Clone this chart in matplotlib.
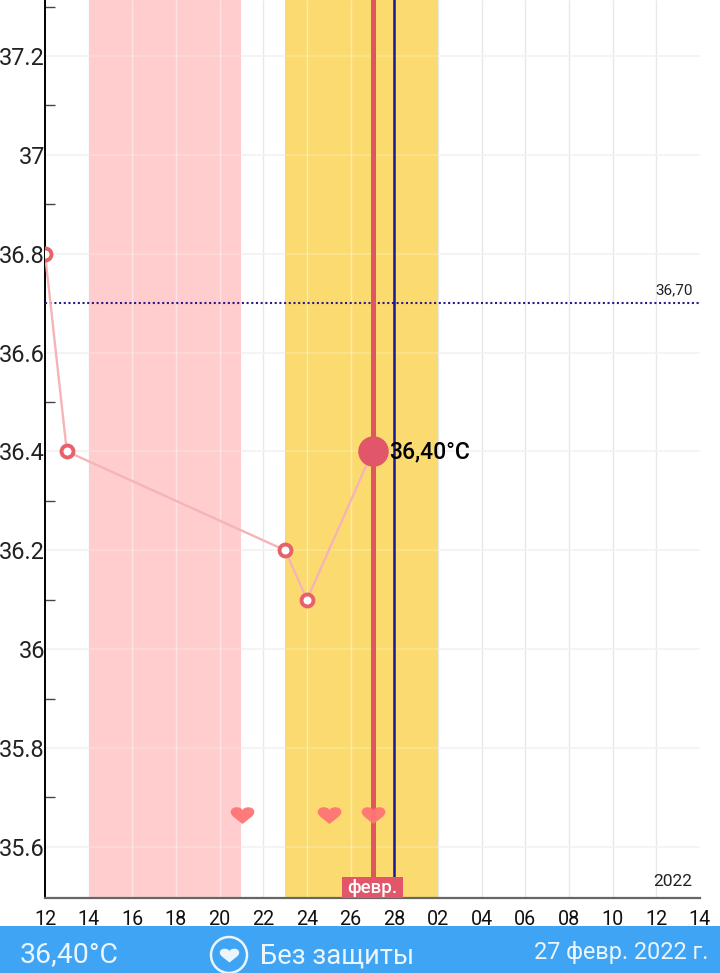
import matplotlib
matplotlib.use("Agg")
import matplotlib.pyplot as plt
from matplotlib.patches import Circle, Rectangle
from matplotlib.path import Path

plt.rcParams["font.family"] = ["Roboto", "DejaVu Sans"]

# ---------------- Data ----------------
tick_days = list(range(0, 31, 2))
tick_labels = ["12", "14", "16", "18", "20", "22", "24", "26", "28",
               "02", "04", "06", "08", "10", "12", "14"]

temp_days = [0, 1, 11, 12, 15]
temps = [36.8, 36.4, 36.2, 36.1, 36.4]

major_temps = [35.6, 35.8, 36.0, 36.2, 36.4, 36.6, 36.8, 37.0, 37.2]
major_labels = ["35.6", "35.8", "36", "36.2", "36.4", "36.6", "36.8", "37", "37.2"]
minor_temps = [35.7, 35.9, 36.1, 36.3, 36.5, 36.9, 37.1, 37.3]

heart_days = [9, 13, 15]
heart_level = 35.665

pink_band = (2, 9)
yellow_band = (11, 18)
today = 15
blue_day = 16
cover_line = 36.7

W, H = 720, 973
BAR = "#3FA4F3"
RED = "#E2566A"
YMIN, YMAX = 35.4965, 37.3133

# heart outline for the markers, flatter than it is wide
heart = Path(
    [(0, -0.72), (-0.5, -0.3), (-1.0, -0.05), (-1.0, 0.3), (-1.0, 0.6), (-0.7, 0.7), (-0.5, 0.7),
     (-0.25, 0.7), (0, 0.58), (0, 0.42), (0, 0.58), (0.25, 0.7), (0.5, 0.7),
     (0.7, 0.7), (1.0, 0.6), (1.0, 0.3), (1.0, -0.05), (0.5, -0.3), (0, -0.72), (0, -0.72)],
    [Path.MOVETO] + [Path.CURVE4] * 18 + [Path.CLOSEPOLY],
)

fig = plt.figure(figsize=(W / 100, H / 100), dpi=100)

# ---------------- Bottom bar ----------------
bar = fig.add_axes([0, 0, 1, 1], zorder=0)
bar.set_xlim(0, W)
bar.set_ylim(H, 0)
bar.axis("off")
bar.add_patch(Rectangle((0, 926), W, 47, color=BAR, lw=0))
bar.add_patch(Circle((229, 955), 18, fc="none", ec="#EAF5FE", lw=1.8))
bar.plot([229], [955], marker=heart, ms=14, color="#EAF5FE", mew=0)
bar.text(20, 956, "36,40°C", fontsize=20.5, color="#EAF5FE", va="center", ha="left")
bar.text(260, 956, "Без защиты", fontsize=19.7, color="#EAF5FE", va="center", ha="left")
bar.text(708, 953, "27 февр. 2022 г.", fontsize=16.8, color="#EAF5FE", va="center", ha="right")

# ---------------- Chart ----------------
ax = fig.add_axes([45 / W, (H - 898) / H, 655 / W, 898 / H], zorder=1)
ax.patch.set_alpha(0)
ax.set_xlim(0, 30)
ax.set_ylim(YMIN, YMAX)

# grid under the bands
ax.vlines(tick_days[1:-1], YMIN, YMAX, color="#E8E8E8", lw=1, zorder=0)
ax.hlines(major_temps, 0, 30, color="#F3F3F3", lw=1.3, zorder=0)

ax.axvspan(*pink_band, color="#FFCDCE", lw=0, zorder=1)
ax.axvspan(*yellow_band, color="#FBDB70", lw=0, zorder=1)

# grid shows lighter on top of the bands
for lo, hi in [pink_band, yellow_band]:
    inside = [d for d in tick_days if lo < d < hi]
    ax.vlines(inside, YMIN, YMAX, color="white", alpha=0.45, lw=1, zorder=2)
    ax.hlines(major_temps, lo, hi, color="white", alpha=0.2, lw=1.3, zorder=2)

ax.hlines(cover_line, 0, 30, color="#2A1A8C", lw=1.5, linestyles=(0, (1, 1.25)), zorder=3)
ax.text(29.65, cover_line + 0.0125, "36,70", fontsize=11, ha="right", va="bottom",
        color="#222222", zorder=6)

ax.axvline(today, color="#E0565F", lw=3.6, zorder=3)
ax.axvline(blue_day, color="#1C1499", lw=1.8, zorder=3)

ax.plot(temp_days, temps, color="#F6B4B6", lw=1.7, zorder=4)
ax.plot(temp_days[:-1], temps[:-1], ls="none", marker="o", ms=8.6, mfc="white",
        mec="#E8606A", mew=2.8, zorder=5)
ax.plot(temp_days[-1], temps[-1], marker="o", ms=22, color=RED, mew=0, zorder=5)
ax.text(temp_days[-1] + 0.75, temps[-1], "36,40°C", fontsize=16.5, color="black",
        va="center", ha="left", zorder=6, fontweight="medium")

ax.plot(heart_days, [heart_level] * len(heart_days), ls="none", marker=heart, ms=17,
        color="#FF7474", alpha=0.95, mew=0, zorder=4)

# month tag and year
ax.add_patch(Rectangle((today - 1.4, YMIN), 2.8, 0.0425, fc=RED, ec="none", zorder=7))
ax.text(today, YMIN + 0.0195, "февр.", fontsize=13.5, color="white", ha="center", va="center",
        fontweight="medium", zorder=8)
ax.text(29.65, YMIN + 0.033, "2022", fontsize=12.5, ha="right", va="center", color="#222222", zorder=6)

# ---------------- Axes ----------------
ax.set_xticks(tick_days)
ax.set_xticklabels(tick_labels, fontsize=14.2, color="#111111")
ax.tick_params(axis="x", length=0, pad=8.5)

ax.set_yticks(major_temps)
ax.set_yticklabels(major_labels, fontsize=16.9, color="#222222")
ax.tick_params(axis="y", which="major", length=0, pad=0)
ax.set_yticks(minor_temps, minor=True)
ax.tick_params(axis="y", which="minor", direction="in", length=7, width=1, color="#444444")

for side in ["top", "right"]:
    ax.spines[side].set_visible(False)
ax.spines["left"].set_linewidth(1.4)
ax.spines["left"].set_color("black")
ax.spines["bottom"].set_linewidth(1.6)
ax.spines["bottom"].set_color("#666666")

fig.savefig("out.png", dpi=100)
